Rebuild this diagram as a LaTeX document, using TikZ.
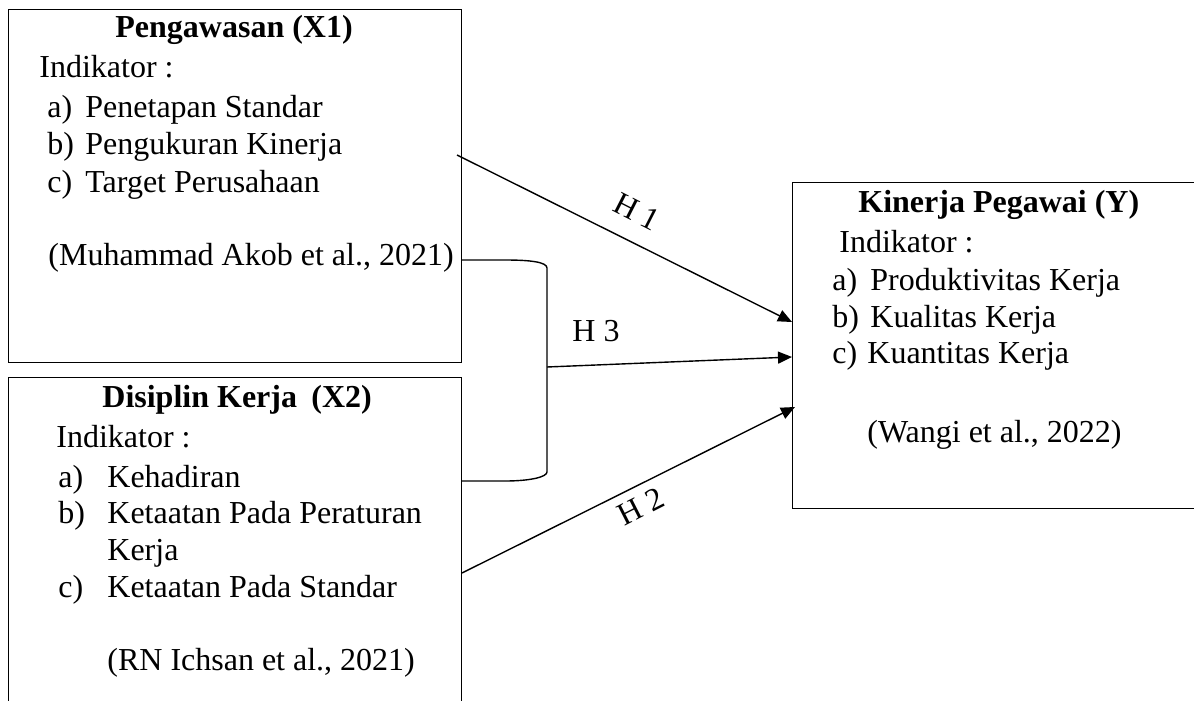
\documentclass[tikz,border=0pt]{standalone}
\usepackage{fontspec}
\setmainfont{Liberation Serif}
\usetikzlibrary{arrows.meta}
\begin{document}
\begin{tikzpicture}[x=0.5pt,y=-0.5pt,
  box/.style={draw, line width=0.7pt, inner sep=0pt, anchor=north west},
  txt/.style={anchor=base west, inner sep=0pt, font=\fontsize{16pt}{18.5pt}\selectfont},
  ttl/.style={anchor=base west, inner sep=0pt, font=\fontsize{16pt}{18.5pt}\selectfont\bfseries},
  conn/.style={line width=0.7pt, -{Triangle[length=7pt,width=6pt]}},
  brk/.style={line width=0.7pt},
  lbl/.style={inner sep=0pt, font=\fontsize{16pt}{18.5pt}\selectfont}]
\useasboundingbox (0,0) rectangle (1194,701);
\clip (0,0) rectangle (1194,701);
% boxes
\node[box, minimum width=226.5pt, minimum height=176.5pt] (x1) at (8,9) {};
\node[box, minimum width=226.5pt, minimum height=185pt] (x2) at (8,377) {};
\node[box, minimum width=225pt, minimum height=163pt] (y) at (792,182) {};
% X1 text
\node[ttl] (x1t) at (115,38) {Pengawasan (X1)};
\node[txt] (x1i) at (39,78) {Indikator :};
\node[txt] (x1a) at (47,118) {a)};
\node[txt] (x1at) at (85,118) {Penetapan Standar};
\node[txt] (x1b) at (47,155) {b)};
\node[txt] (x1bt) at (85,155) {Pengukuran Kinerja};
\node[txt] (x1c) at (47,192) {c)};
\node[txt] (x1ct) at (85,192) {Target Perusahaan};
\node[txt] (x1r) at (48,265) {(Muhammad Akob et al., 2021)};
% X2 text
\node[ttl] (x2t) at (102,407) {Disiplin Kerja\hspace{0.45em}(X2)};
\node[txt] (x2i) at (56,447) {Indikator :};
\node[txt] (x2a) at (58,487) {a)};
\node[txt] (x2at) at (107,487) {Kehadiran};
\node[txt] (x2b) at (58,523) {b)};
\node[txt] (x2bt) at (107,523) {Ketaatan Pada Peraturan};
\node[txt] (x2bt2) at (107,560) {Kerja};
\node[txt] (x2c) at (58,597) {c)};
\node[txt] (x2ct) at (107,597) {Ketaatan Pada Standar};
\node[txt] (x2r) at (107,670) {(RN Ichsan et al., 2021)};
% Y text
\node[ttl] (yt) at (858,213) {Kinerja Pegawai (Y)};
\node[txt] (yi) at (839,252) {Indikator :};
\node[txt] (ya) at (832,290) {a)};
\node[txt] (yat) at (870,290) {Produktivitas Kerja};
\node[txt] (yb) at (832,327) {b)};
\node[txt] (ybt) at (870,327) {Kualitas Kerja};
\node[txt] (yc) at (832,363) {c)};
\node[txt] (yct) at (867,363) {Kuantitas Kerja};
\node[txt] (yr) at (867,442) {(Wangi et al., 2022)};
% connector end points
\coordinate (h1s) at (457,155);
\coordinate (h1e) at (792,322);
\coordinate (bt) at (461,260);
\coordinate (bb) at (461,481);
\coordinate (bk) at (547,367);
\coordinate (h3e) at (792,357);
\coordinate (h2s) at (462,573);
\coordinate (h2e) at (795,407);
% bracket
\draw[brk] (bt) -- (505,260) .. controls (530,260) and (547,262) .. (547,268) -- (bk) -- (547,472) .. controls (547,477) and (530,481) .. (505,481) -- (bb);
% arrows
\draw[conn] (h1s) -- (h1e);
\draw[conn] (bk) -- (h3e);
\draw[conn] (h2s) -- (h2e);
% labels
\node[lbl, rotate=-27] (lh1) at (637,212) {H 1};
\node[lbl, anchor=base west] (lh3) at (572,341) {H 3};
\node[lbl, rotate=27] (lh2) at (641,506) {H 2};
\end{tikzpicture}
\end{document}
